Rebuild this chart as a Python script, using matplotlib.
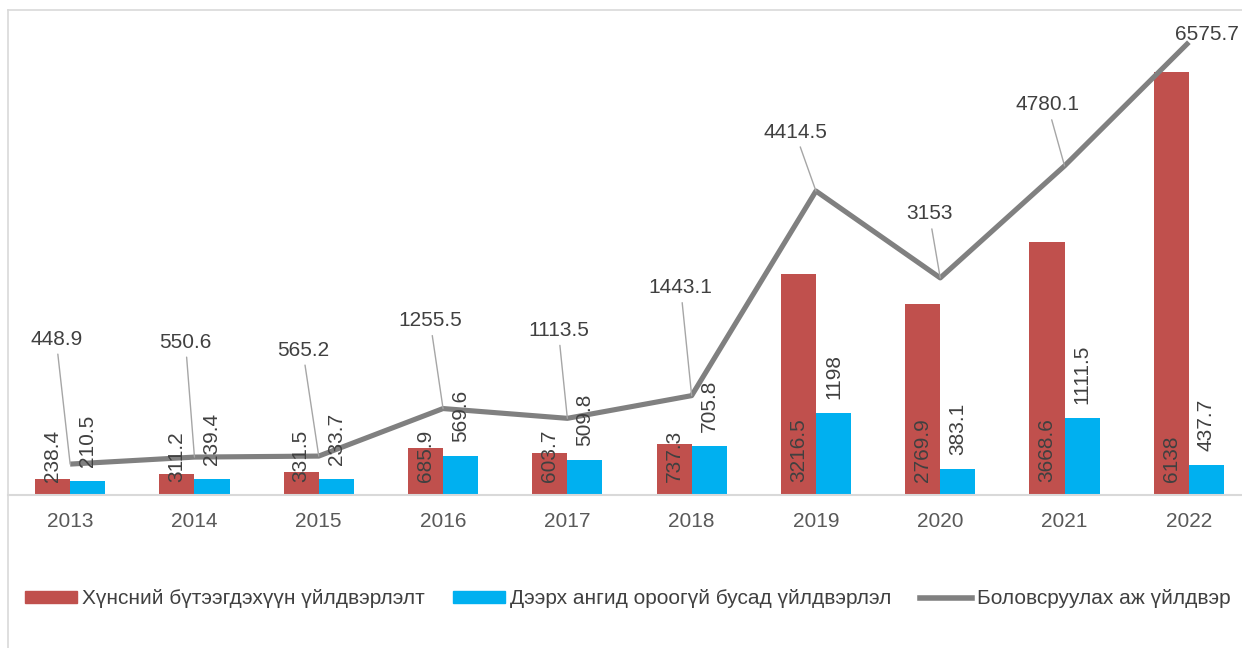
import numpy as np
import matplotlib
matplotlib.use('Agg')
import matplotlib.pyplot as plt
from matplotlib.lines import Line2D
from matplotlib.patches import Patch

plt.rcParams['font.family'] = ['Liberation Sans', 'DejaVu Sans']

years = ['2013', '2014', '2015', '2016', '2017', '2018', '2019', '2020', '2021', '2022']
food = [238.4, 311.2, 331.5, 685.9, 603.7, 737.3, 3216.5, 2769.9, 3668.6, 6138]
other = [210.5, 239.4, 233.7, 569.6, 509.8, 705.8, 1198, 383.1, 1111.5, 437.7]
total = [448.9, 550.6, 565.2, 1255.5, 1113.5, 1443.1, 4414.5, 3153, 4780.1, 6575.7]
food_lbl = ['238.4', '311.2', '331.5', '685.9', '603.7', '737.3', '3216.5', '2769.9', '3668.6', '6138']
other_lbl = ['210.5', '239.4', '233.7', '569.6', '509.8', '705.8', '1198', '383.1', '1111.5', '437.7']
total_lbl = ['448.9', '550.6', '565.2', '1255.5', '1113.5', '1443.1', '4414.5', '3153', '4780.1', '6575.7']
# label offsets (pixels) for the line labels
lbl_dx = [-14, -9, -16, -13, -9, -11, -21, -11, -17, 18]
lbl_dy = [125, 115, 106, 88, 88, 108, 59, 64, 61, 8]

names = ['Хүнсний бүтээгдэхүүн үйлдвэрлэлт', 'Дээрх ангид ороогүй бусад үйлдвэрлэл',
         'Боловсруулах аж үйлдвэр']

c_red = '#C0504D'
c_blue = '#00B0F0'
c_line = '#808080'
c_txt = '#404040'

fig = plt.figure(figsize=(12.42, 6.48), dpi=100)
ax = fig.add_axes([8/1242, 153/648, 1243/1242, 482/648])

x = np.arange(len(years))
w = 0.282
ax.bar(x - w/2, food, w, color=c_red, zorder=2)
ax.bar(x + w/2, other, w, color=c_blue, zorder=2)
ax.plot(x, total, color=c_line, lw=3.7, zorder=3, solid_capstyle='butt')

fs = 15
for i in range(len(years)):
    ax.annotate(food_lbl[i], xy=(x[i] - w/2, 0), xytext=(0, 13), textcoords='offset pixels',
                rotation=90, ha='center', va='bottom', fontsize=fs, color=c_txt, zorder=4)
    ax.annotate(other_lbl[i], xy=(x[i] + w/2, other[i]), xytext=(0, 14), textcoords='offset pixels',
                rotation=90, ha='center', va='bottom', fontsize=fs, color=c_txt, zorder=4)
    ap = None
    if i < len(years) - 1:
        ap = dict(arrowstyle='-', color='#A6A6A6', lw=1, shrinkA=2, shrinkB=0)
    ax.annotate(total_lbl[i], xy=(x[i], total[i]), xytext=(lbl_dx[i], lbl_dy[i]),
                textcoords='offset pixels', ha='center', va='center', fontsize=fs,
                color=c_txt, arrowprops=ap, zorder=5)

ax.set_xlim(-0.5, len(years) - 0.5)
ax.set_ylim(0, 7000)
ax.set_xticks(x)
ax.set_xticklabels(years, fontsize=15, color='#595959')
ax.tick_params(axis='x', length=0, pad=12)
ax.set_yticks([])
for s in ['top', 'right', 'left']:
    ax.spines[s].set_visible(False)
ax.spines['bottom'].set_color('#D9D9D9')
ax.spines['bottom'].set_linewidth(1.5)
ax.set_facecolor('none')

handles = [Patch(color=c_red), Patch(color=c_blue), Line2D([0], [0], color=c_line, lw=4)]
fig.legend(handles, names, loc='center left', bbox_to_anchor=(25/1242, 1 - 599/648), ncol=3,
           frameon=False, fontsize=15, handlelength=2.5, handleheight=0.5, handletextpad=0.25,
           columnspacing=1.35, borderpad=0, borderaxespad=0, labelcolor=c_txt)

# chart border
fig.add_artist(Line2D([8/1242, 8/1242], [0, 1 - 10/648], color='#D9D9D9', lw=1.2))
fig.add_artist(Line2D([8/1242, 1], [1 - 10/648, 1 - 10/648], color='#D9D9D9', lw=1.2))

fig.savefig('out.png', dpi=100)
